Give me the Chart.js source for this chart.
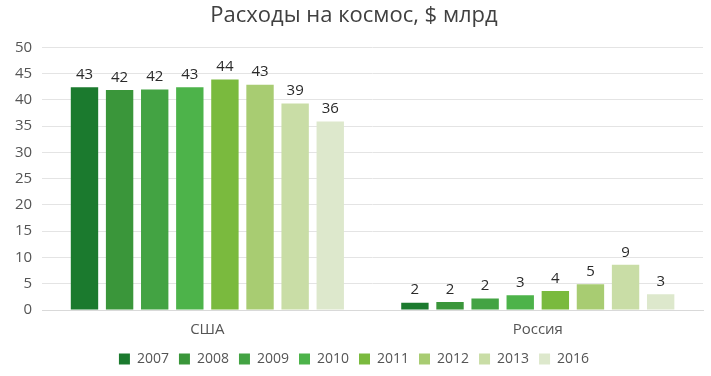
<!DOCTYPE html>
<html>
<head>
<meta charset="utf-8">
<script src="https://cdn.jsdelivr.net/npm/chart.js@4"></script>
<style>
  html, body { margin: 0; padding: 0; background: #fff; }
  #wrap { width: 711px; height: 376px; }
</style>
</head>
<body>
<div id="wrap"><canvas id="chart"></canvas></div>
<script>
// Data
const countries = ['США', 'Россия'];
const years = ['2007', '2008', '2009', '2010', '2011', '2012', '2013', '2016'];
const usaValues = [42.4, 41.9, 42.0, 42.4, 43.9, 42.9, 39.3, 35.9];
const russiaValues = [1.4, 1.5, 2.2, 2.8, 3.6, 4.9, 8.6, 3.0];
const usaLabels = ['43', '42', '42', '43', '44', '43', '39', '36'];
const russiaLabels = ['2', '2', '2', '3', '4', '5', '9', '3'];
const colors = ['#1b7a2e', '#3a963a', '#43a343', '#4db34a', '#7aba3e', '#a8cc72', '#c9dda6', '#dde8cc'];

const font = "'Open Sans', 'Noto Sans', sans-serif";

// draws the value text above each bar (no datalabels plugin here)
const barLabels = {
  id: 'barLabels',
  afterDatasetsDraw(chart) {
    const ctx = chart.ctx;
    ctx.save();
    ctx.fillStyle = '#2a2a2a';
    ctx.font = '15px ' + font;
    ctx.textAlign = 'center';
    ctx.textBaseline = 'bottom';
    chart.data.datasets.forEach((ds, i) => {
      chart.getDatasetMeta(i).data.forEach((bar, j) => {
        ctx.fillText(ds.labelsText[j], bar.x, bar.y - 5);
      });
    });
    ctx.restore();
  }
};

const datasets = years.map((y, i) => ({
  label: y,
  data: [usaValues[i], russiaValues[i]],
  labelsText: [usaLabels[i], russiaLabels[i]],
  backgroundColor: colors[i],
  borderWidth: 0,
  categoryPercentage: 0.85,
  barPercentage: 0.78
}));

new Chart(document.getElementById('chart'), {
  type: 'bar',
  data: { labels: countries, datasets: datasets },
  options: {
    responsive: true,
    maintainAspectRatio: false,
    animation: false,
    layout: { padding: { left: 5, right: 8, top: 0, bottom: 0 } },
    scales: {
      y: {
        min: 0,
        max: 50,
        ticks: { stepSize: 5, color: '#555', font: { family: font, size: 15 }, padding: 10 },
        grid: { color: '#e4e4e4', drawTicks: false },
        border: { display: false }
      },
      x: {
        ticks: { color: '#555', font: { family: font, size: 15 }, padding: 3 },
        grid: { display: false },
        border: { color: '#d9d9d9' }
      }
    },
    plugins: {
      title: {
        display: true,
        text: 'Расходы на космос, $ млрд',
        color: '#404040',
        font: { family: font, size: 22, weight: 'normal' },
        padding: { top: 3, bottom: 18 }
      },
      legend: {
        position: 'bottom',
        labels: {
          color: '#555',
          font: { family: font, size: 14 },
          boxWidth: 11,
          boxHeight: 11,
          padding: 10
        }
      },
      tooltip: { enabled: false }
    }
  },
  plugins: [barLabels]
});
</script>
</body>
</html>
